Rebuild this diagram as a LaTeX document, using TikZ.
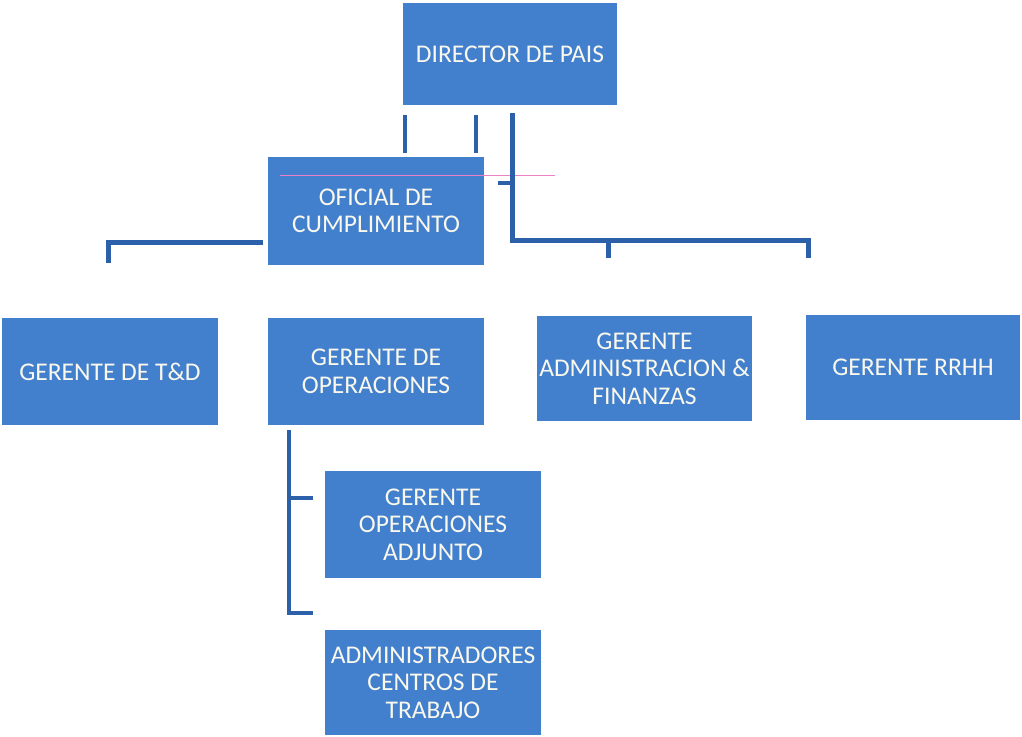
\documentclass[tikz,border=0pt]{standalone}
\usepackage{fontspec}
\setmainfont{Carlito}
\definecolor{boxblue}{RGB}{66,128,206}
\definecolor{lineblue}{RGB}{44,96,168}
\definecolor{txt}{RGB}{250,248,236}
\definecolor{pinkline}{RGB}{235,130,200}
\begin{document}
\begin{tikzpicture}[x=1pt,y=-1pt,
  box/.style={rectangle, fill=boxblue, text=txt, align=center, inner sep=0pt,
    font=\fontsize{25.5}{27.5}\selectfont},
  conn/.style={draw=lineblue, line width=5pt},
  thin/.style={draw=lineblue, line width=4pt}]
\useasboundingbox (0,0) rectangle (1022,736);
\node[box, minimum width=214pt, minimum height=102pt] (dir) at (510,54) {DIRECTOR DE PAIS};
\node[box, minimum width=216pt, minimum height=108pt] (of) at (376,211) {OFICIAL DE\\CUMPLIMIENTO};
\node[box, minimum width=216pt, minimum height=107pt] (td) at (110,371.5) {GERENTE DE T\&D};
\node[box, minimum width=216pt, minimum height=107pt] (op) at (376,371.5) {GERENTE DE\\OPERACIONES};
\node[box, minimum width=215pt, minimum height=105pt] (af) at (644.5,368.5) {GERENTE\\ADMINISTRACION \&\\FINANZAS};
\node[box, minimum width=214pt, minimum height=105pt] (rh) at (913,367.5) {GERENTE RRHH};
\node[box, minimum width=216pt, minimum height=107pt] (adj) at (433,524.5) {GERENTE\\OPERACIONES\\ADJUNTO};
\node[box, minimum width=216pt, minimum height=105pt] (adm) at (433,682.5) {ADMINISTRADORES\\CENTROS DE\\TRABAJO};
% connector coordinates
\coordinate (a1) at (405,115); \coordinate (a2) at (405,153);
\coordinate (b1) at (476,115); \coordinate (b2) at (476,153);
\coordinate (m1) at (512,113); \coordinate (mc) at (512,240);
\coordinate (tk) at (498,183); \coordinate (tk2) at (512,183);
\coordinate (m2) at (808,240); \coordinate (m3) at (808,258);
\coordinate (mid) at (608,240); \coordinate (mid2) at (608,258);
\coordinate (l1) at (263,242); \coordinate (l2) at (108,242); \coordinate (l3) at (108,263);
\coordinate (o1) at (289,430); \coordinate (o2) at (289,613); \coordinate (o2e) at (313,613);
\coordinate (o3) at (289,498); \coordinate (o3e) at (313,498);
% pink artifact line
\coordinate (p1) at (280,175); \coordinate (p2) at (555,175);
\draw[pinkline, line width=0.6pt] (p1) -- (p2);
\draw[thin] (a1) -- (a2);
\draw[thin] (b1) -- (b2);
\draw[conn] (m1) -- (mc) -- (m2) -- (m3);
\draw[conn] (mid) -- (mid2);
\draw[thin] (tk) -- (tk2);
\draw[conn] (l1) -- (l2) -- (l3);
\draw[thin] (o1) -- (o2) -- (o2e);
\draw[thin] (o3) -- (o3e);
\end{tikzpicture}
\end{document}
